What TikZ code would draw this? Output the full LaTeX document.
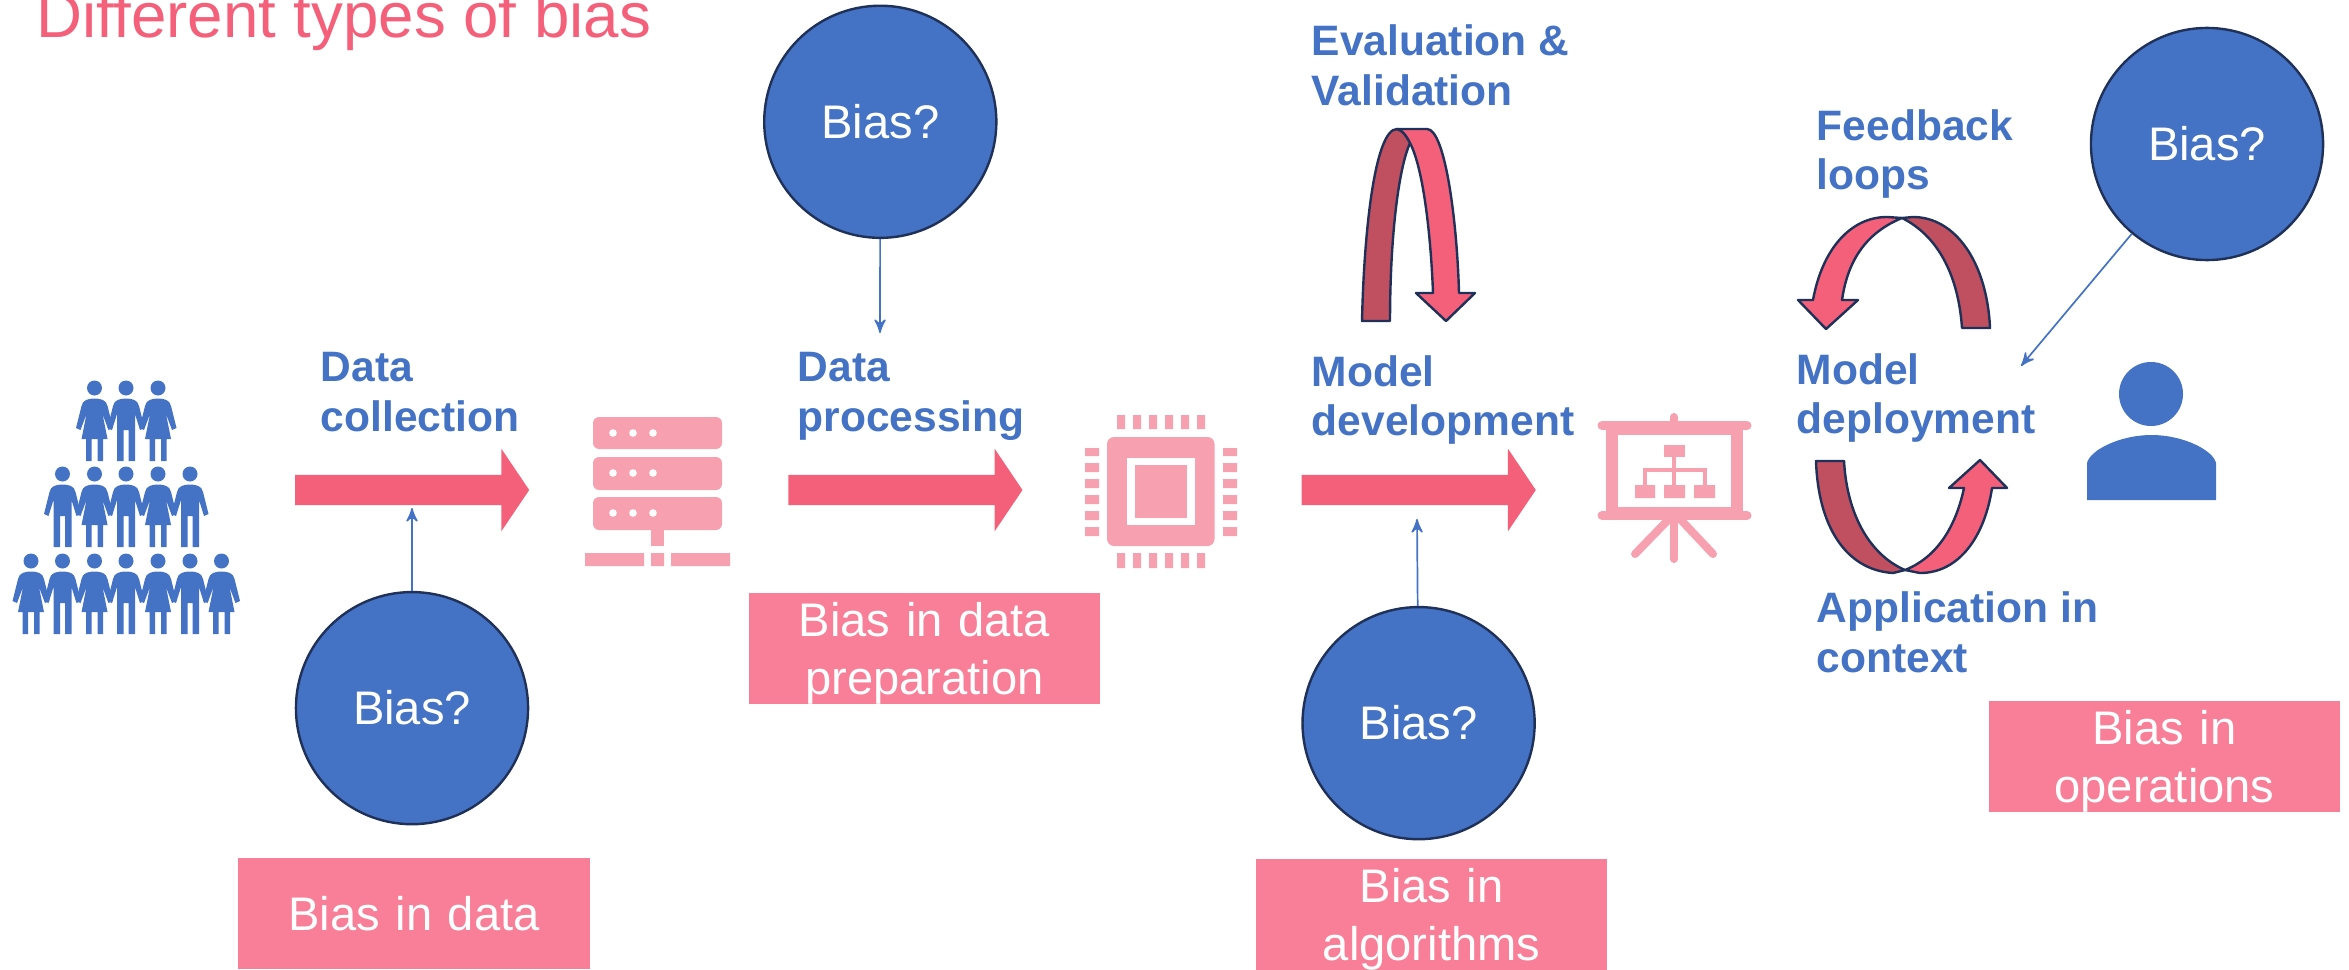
\documentclass[tikz,border=0pt]{standalone}
\usepackage{fontspec}
\setmainfont{Liberation Sans}
\usetikzlibrary{arrows,shapes,positioning}
\definecolor{biasblue}{HTML}{4472C4}
\definecolor{biasline}{HTML}{1F3158}
\definecolor{biasred}{HTML}{F4607A}
\definecolor{biasdark}{HTML}{C04F60}
\definecolor{biastag}{HTML}{F87F97}
\definecolor{biasicon}{HTML}{F6A0B0}
\newcommand{\tagstrut}{\rule{0pt}{12.5pt}}
\tikzset{
    biascirc/.style={
           circle,
           fill=biasblue,
           draw=biasline,
           line width=0.024cm,
           minimum size=2.32cm,
           inner sep=0pt,
           text=white,
           font=\fontsize{13.4}{16}\selectfont,
           },
    biastagbox/.style={
           rectangle,
           fill=biastag,
           minimum height=1.11cm,
           text width=3.51cm,
           inner sep=0pt,
           text centered,
           text=white,
           font=\fontsize{13.4}{16.4}\selectfont,
           },
    steplabel/.style={
           anchor=west,
           align=left,
           inner sep=0pt,
           text=biasblue,
           font=\fontsize{12.1}{14.2}\selectfont\bfseries,
           },
    bigarrow/.style={
           single arrow,
           fill=biasred,
           minimum height=2.34cm,
           minimum width=0.81cm,
           inner xsep=0pt,
           inner ysep=0.145cm,
           single arrow head extend=0.26cm,
           single arrow tip angle=112,
           },
    pil/.style={
           ->,
           draw=biasblue,
           line width=0.017cm,
           },
    bandlight/.style={fill=biasred, draw=biasline, line width=0.024cm, line join=round},
    banddark/.style={fill=biasdark, draw=biasline, line width=0.024cm, line join=round},
    womanicon/.pic={
           \fill[biasblue] (0,0) circle[radius=7.5];
           \fill[biasblue] (0,10.5) .. controls (-6,10.5) and (-12,12) .. (-13,18) -- (-18.5,40) -- (-14,42) -- (-8,26) -- (-13,51) -- (-8.5,51) -- (-8.5,73) -- (-3,73) -- (-3,51) -- (3,51) -- (3,73) -- (8.5,73) -- (8.5,51) -- (13,51) -- (8,26) -- (14,42) -- (18.5,40) -- (13,18) .. controls (12,12) and (6,10.5) .. (0,10.5) -- cycle;
           },
    manicon/.pic={
           \fill[biasblue] (0,0) circle[radius=7.5];
           \fill[biasblue] (0,10.5) .. controls (-6,10.5) and (-12,12) .. (-13,18) -- (-18.5,40) -- (-14,42) -- (-9,26) -- (-9,73) -- (-2.5,73) -- (-2.5,42) -- (2.5,42) -- (2.5,73) -- (9,73) -- (9,26) -- (14,42) -- (18.5,40) -- (13,18) .. controls (12,12) and (6,10.5) .. (0,10.5) -- cycle;
           },
}
\begin{document}
\begin{tikzpicture}[->,>=stealth',x=0.01cm,y=-0.01cm]
\useasboundingbox (0,0) rectangle (2349,970);
% Title
\node[anchor=base west,inner sep=0pt,text=biasred,font=\fontsize{18.1}{20}\selectfont] (TITLE) at (36,38) {Different types of bias};
% Position of big arrows
\node[bigarrow] (ARROW1) at (407,490) {};
\node[bigarrow, right of = ARROW1, node distance = 4.93cm] (ARROW2) {};
\node[bigarrow, right of = ARROW2, node distance = 5.13cm] (ARROW3) {};
% Position of bias circles
\node[biascirc, below of = ARROW1, node distance = 2.18cm, xshift = 0.05cm] (BIAS1) {Bias?};
\node[biascirc, above of = ARROW2, node distance = 3.68cm, xshift = -0.2cm] (BIAS2) {Bias?};
\node[biascirc, below of = ARROW3, node distance = 2.33cm, xshift = 0.05cm] (BIAS3) {Bias?};
\node[biascirc] (BIAS4) at (2207,144) {Bias?};
% Position of tags
\node[biastagbox, below of = BIAS1, node distance = 2.05cm, xshift = 0.02cm] (TAGDATA) {Bias in data};
\node[biastagbox] (TAGPREP) at (924.5,648.5) {\tagstrut Bias in data\\preparation};
\node[biastagbox, below of = BIAS3, node distance = 1.91cm, xshift = 0.13cm] (TAGALGO) {\tagstrut Bias in\\algorithms};
\node[biastagbox] (TAGOPS) at (2164.5,756.5) {\tagstrut Bias in\\operations};
% Step labels
\node[steplabel] (COLLECT) at (320,392) {Data\\collection};
\node[steplabel] (PROCESS) at (797,396.5) {Data\\processing};
\node[steplabel] (DEVELOP) at (1311,400) {Model\\development};
\node[steplabel] (EVAL) at (1311,65) {Evaluation \&\\Validation};
\node[steplabel] (DEPLOY) at (1796,398) {Model\\deployment};
\node[steplabel] (FEEDBACK) at (1816,154) {Feedback\\loops};
\node[steplabel] (CONTEXT) at (1816,632.5) {Application in\\context};
% Draw lines on graph
\coordinate (TIP1) at (412,508);
\coordinate (TIP2) at (880,333);
\coordinate (TIP3) at (1417,519);
\coordinate (TIP4) at (2021,366);
\path (BIAS1) edge[pil] (TIP1);
\path (BIAS2) edge[pil] (TIP2);
\path (BIAS3) edge[pil] (TIP3);
\path (BIAS4) edge[pil] (TIP4);
% Curved arrows
\draw[banddark] (1362,321) .. controls (1364,230) and (1375,129) .. (1397,129) .. controls (1402,130) and (1406,135) .. (1410,143) .. controls (1398,170) and (1390,240) .. (1390,321) -- cycle;
\draw[bandlight] (1397,129) -- (1427,129) .. controls (1445,129) and (1457,220) .. (1459,293) -- (1475,293) -- (1446,321) -- (1416,293) -- (1433,293) .. controls (1431,240) and (1424,170) .. (1410,143) .. controls (1406,135) and (1402,130) .. (1397,129) -- cycle;
\draw[banddark] (1902,218) -- (1913,217) .. controls (1955,217) and (1987,262) .. (1990,328) -- (1962,328) .. controls (1958,272) and (1936,235) .. (1902,218) -- cycle;
\draw[bandlight] (1902,218) -- (1887,217) .. controls (1850,217) and (1822,250) .. (1813,300) -- (1798,300) -- (1826,329) -- (1858,300) -- (1842,300) .. controls (1848,258) and (1868,232) .. (1902,218) -- cycle;
\draw[banddark] (1816,461) -- (1844,461) .. controls (1847,515) and (1870,555) .. (1905,570) -- (1893,573) .. controls (1845,570) and (1818,525) .. (1816,461) -- cycle;
\draw[bandlight] (1905,570) -- (1920,573) .. controls (1960,573) and (1985,535) .. (1992,488) -- (2007,488) -- (1980,460) -- (1949,488) -- (1964,488) .. controls (1955,530) and (1935,558) .. (1905,570) -- cycle;
% People
\pic at (94.5,388) {womanicon};
\pic at (126,388) {manicon};
\pic at (158,388) {womanicon};
\pic at (62.5,474) {manicon};
\pic at (94.5,474) {womanicon};
\pic at (126,474) {manicon};
\pic at (158,474) {womanicon};
\pic at (190,474) {manicon};
\pic at (31,561) {womanicon};
\pic at (62.5,561) {manicon};
\pic at (94.5,561) {womanicon};
\pic at (126,561) {manicon};
\pic at (158,561) {womanicon};
\pic at (190,561) {manicon};
\pic at (221.5,561) {womanicon};
% Server
\fill[biasicon,rounded corners=0.06cm] (593,417) rectangle (722,449);
\fill[biasicon,rounded corners=0.06cm] (593,457) rectangle (722,490);
\fill[biasicon,rounded corners=0.06cm] (593,497) rectangle (722,530);
\fill[white] (613,433) circle[radius=3.8] (633,433) circle[radius=3.8] (653,433) circle[radius=3.8];
\fill[white] (613,473) circle[radius=3.8] (633,473) circle[radius=3.8] (653,473) circle[radius=3.8];
\fill[white] (613,513) circle[radius=3.8] (633,513) circle[radius=3.8] (653,513) circle[radius=3.8];
\fill[biasicon] (651,530) rectangle (664,546);
\fill[biasicon] (585,553) rectangle (644,566) (651,553) rectangle (664,566) (671,553) rectangle (730,566);
% Chip
\fill[biasicon,rounded corners=0.07cm] (1107,437) rectangle (1214.5,546);
\fill[white] (1127,458) rectangle (1195,525);
\fill[biasicon] (1135,465) rectangle (1187,518);
\fill[biasicon] (1117,415) rectangle (1125,429) (1133,415) rectangle (1141,429) (1149,415) rectangle (1157,429) (1165,415) rectangle (1173,429) (1181,415) rectangle (1189,429) (1197,415) rectangle (1205,429);
\fill[biasicon] (1117,553) rectangle (1125,568) (1133,553) rectangle (1141,568) (1149,553) rectangle (1157,568) (1165,553) rectangle (1173,568) (1181,553) rectangle (1189,568) (1197,553) rectangle (1205,568);
\fill[biasicon] (1085,448) rectangle (1099,456) (1085,463) rectangle (1099,472) (1085,479) rectangle (1099,488) (1085,495) rectangle (1099,504) (1085,511) rectangle (1099,520) (1085,527) rectangle (1099,536);
\fill[biasicon] (1223,448) rectangle (1237,456) (1223,463) rectangle (1237,472) (1223,479) rectangle (1237,488) (1223,495) rectangle (1237,504) (1223,511) rectangle (1237,520) (1223,527) rectangle (1237,536);
% Screen
\fill[biasicon] (1606,430) rectangle (1743,512);
\fill[white] (1618,435) rectangle (1731,507);
\draw[-,biasicon,line width=0.09cm,line cap=round] (1602,425.5) -- (1747,425.5);
\draw[-,biasicon,line width=0.09cm,line cap=round] (1602,515.5) -- (1747,515.5);
\draw[-,biasicon,line width=0.08cm,line cap=round] (1674,417) -- (1674,425);
\draw[-,biasicon,line width=0.08cm,line cap=round] (1674,520) -- (1674,559);
\draw[-,biasicon,line width=0.08cm,line cap=round] (1668,520) -- (1635,554);
\draw[-,biasicon,line width=0.08cm,line cap=round] (1681,520) -- (1713,554);
\fill[biasicon] (1664,445) rectangle (1685,457);
\fill[biasicon] (1635,485) rectangle (1655,498) (1664,485) rectangle (1685,498) (1694,485) rectangle (1715,498);
\draw[-,biasicon,line width=0.04cm] (1674,457) -- (1674,485);
\draw[-,biasicon,line width=0.04cm] (1645,485) -- (1645,470) -- (1705,470) -- (1705,485);
% User
\fill[biasblue] (2151,394) circle[radius=32];
\fill[biasblue] (2087,500) -- (2087,463) .. controls (2090,450) and (2120,435) .. (2151.5,435) .. controls (2183,435) and (2213,450) .. (2216,463) -- (2216,500) -- cycle;
\end{tikzpicture}
\end{document}
